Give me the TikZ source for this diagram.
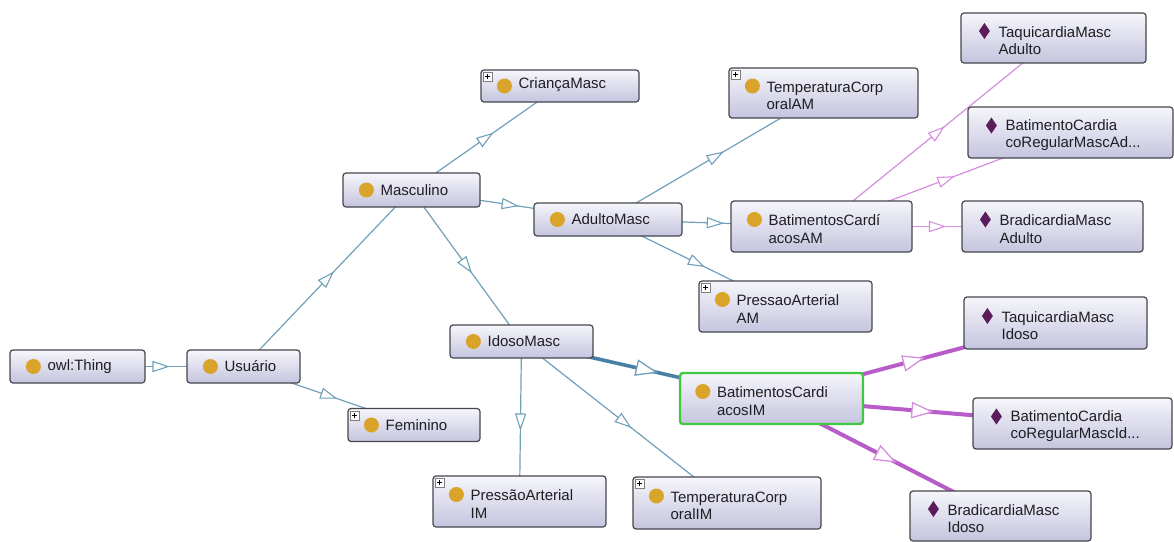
\documentclass[tikz,border=0pt]{standalone}
\usepackage{fontspec}
\setmainfont{Liberation Sans}
\usetikzlibrary{backgrounds,decorations.markings,calc}

\definecolor{boxline}{RGB}{70,70,78}
\definecolor{boxtop}{RGB}{246,246,251}
\definecolor{boxbot}{RGB}{196,196,222}
\definecolor{dotfill}{RGB}{218,164,42}
\definecolor{indivfill}{RGB}{92,28,92}
\definecolor{subline}{RGB}{112,160,186}
\definecolor{subthick}{RGB}{72,128,165}
\definecolor{typeline}{RGB}{214,142,222}
\definecolor{typethick}{RGB}{184,92,202}
\definecolor{selgreen}{RGB}{64,200,64}
\definecolor{ink}{RGB}{30,30,35}

\tikzset{
  cls/.style={rectangle, rounded corners=3pt, draw=boxline, line width=1.2pt,
    top color=boxtop, bottom color=boxbot, inner sep=0pt},
  sel/.style={draw=selgreen, line width=2.4pt},
  lbl/.style={anchor=west, align=left, inner sep=0pt, text=ink,
    font=\fontsize{15}{17.3}\selectfont},
  % hollow mid-arrow, centred on the middle of the centre-to-centre line
  thinmid/.style={postaction={decorate, decoration={markings,
    mark=at position 0.5 with {\draw[#1, line width=1.1pt, fill=white]
      (7.5pt,0pt) -- (-7.5pt,5pt) -- (-7.5pt,-5pt) -- cycle;}}}},
  thickmid/.style={postaction={decorate, decoration={markings,
    mark=at position 0.5 with {\draw[#1, line width=1.3pt, fill=white]
      (10pt,0pt) -- (-10pt,7.5pt) -- (-10pt,-7.5pt) -- cycle;}}}},
  subedge/.style={draw=subline, line width=1.2pt, thinmid=subline},
  subbold/.style={draw=subthick, line width=3.6pt, thickmid=subline},
  typeedge/.style={draw=typeline, line width=1.2pt, thinmid=typeline},
  typebold/.style={draw=typethick, line width=4pt, thickmid=typeline},
  dotmark/.pic={\fill[dotfill] (0pt,0pt) circle (7.5pt);},
  indivmark/.pic={\fill[indivfill] (0pt,-8pt) -- (5.5pt,0pt) -- (0pt,8pt) -- (-5.5pt,0pt) -- cycle;},
  expander/.pic={\draw[gray, fill=white, line width=0.6pt] (0pt,0pt) rectangle (9pt,-9pt);
    \draw[black, line width=0.9pt] (4.5pt,-2pt) -- (4.5pt,-7pt) (2pt,-4.5pt) -- (7pt,-4.5pt);}
}

\begin{document}
\begin{tikzpicture}[x=1pt, y=-1pt]
\useasboundingbox (0,0) rectangle (1174,541);

% ---------- boxes ----------
\node[cls, minimum width=135pt, minimum height=33pt] (thing)   at (77.5,366.5) {};
\node[cls, minimum width=113pt, minimum height=33pt] (usu)     at (243.5,366.5) {};
\node[cls, minimum width=137pt, minimum height=34pt] (masc)    at (411.5,190) {};
\node[cls, minimum width=158pt, minimum height=32pt] (crianca) at (560,86) {};
\node[cls, minimum width=132pt, minimum height=33pt] (fem)     at (414,425) {};
\node[cls, minimum width=148pt, minimum height=33pt] (adulto)  at (608,219.5) {};
\node[cls, minimum width=189pt, minimum height=50pt] (tempAM)  at (823.5,93) {};
\node[cls, minimum width=181pt, minimum height=51pt] (batAM)   at (821.5,226.5) {};
\node[cls, minimum width=173pt, minimum height=51pt] (pressAM) at (785.5,306.5) {};
\node[cls, minimum width=185pt, minimum height=50pt] (taqAd)   at (1053.5,38) {};
\node[cls, minimum width=205pt, minimum height=51pt] (regAd)   at (1070.5,132.5) {};
\node[cls, minimum width=181pt, minimum height=51pt] (bradAd)  at (1052.5,226.5) {};
\node[cls, minimum width=143pt, minimum height=33pt] (idoso)   at (521.5,341.5) {};
\node[cls, sel, minimum width=183pt, minimum height=51pt] (batIM) at (771.5,398.5) {};
\node[cls, minimum width=183pt, minimum height=52pt] (taqId)   at (1055.5,323) {};
\node[cls, minimum width=199pt, minimum height=51pt] (regId)   at (1072.5,423.5) {};
\node[cls, minimum width=181pt, minimum height=50pt] (bradId)  at (1000.5,516) {};
\node[cls, minimum width=173pt, minimum height=51pt] (pressIM) at (519.5,501.5) {};
\node[cls, minimum width=188pt, minimum height=52pt] (tempIM)  at (727,503) {};

% ---------- labels ----------
\node[lbl] (thing-t)   at ([xshift=38pt]thing.west)   {owl:Thing};
\node[lbl] (usu-t)     at ([xshift=38pt]usu.west)     {Usuário};
\node[lbl] (masc-t)    at ([xshift=38pt]masc.west)    {Masculino};
\node[lbl] (crianca-t) at ([xshift=38pt,yshift=1pt]crianca.west) {CriançaMasc};
\node[lbl] (fem-t)     at ([xshift=38pt]fem.west)     {Feminino};
\node[lbl] (adulto-t)  at ([xshift=38pt]adulto.west)  {AdultoMasc};
\node[lbl] (idoso-t)   at ([xshift=38pt]idoso.west)   {IdosoMasc};
\node[lbl] (tempAM-t)  at ([xshift=38pt,yshift=-2.5pt]tempAM.west)  {TemperaturaCorp\\oralAM};
\node[lbl] (batAM-t)   at ([xshift=38pt,yshift=-2.5pt]batAM.west)   {BatimentosCardí\\acosAM};
\node[lbl] (pressAM-t) at ([xshift=38pt,yshift=-2.5pt]pressAM.west) {PressaoArterial\\AM};
\node[lbl] (taqAd-t)   at ([xshift=38pt,yshift=-2.5pt]taqAd.west)   {TaquicardiaMasc\\Adulto};
\node[lbl] (regAd-t)   at ([xshift=38pt,yshift=-2.5pt]regAd.west)   {BatimentoCardia\\coRegularMascAd...};
\node[lbl] (bradAd-t)  at ([xshift=38pt,yshift=-2.5pt]bradAd.west)  {BradicardiaMasc\\Adulto};
\node[lbl] (batIM-t)   at ([xshift=38pt,yshift=-2.5pt]batIM.west)   {BatimentosCardi\\acosIM};
\node[lbl] (taqId-t)   at ([xshift=38pt,yshift=-2.5pt]taqId.west)   {TaquicardiaMasc\\Idoso};
\node[lbl] (regId-t)   at ([xshift=38pt,yshift=-2.5pt]regId.west)   {BatimentoCardia\\coRegularMascId...};
\node[lbl] (bradId-t)  at ([xshift=38pt,yshift=-2.5pt]bradId.west)  {BradicardiaMasc\\Idoso};
\node[lbl] (pressIM-t) at ([xshift=38pt,yshift=-2.5pt]pressIM.west) {PressãoArterial\\IM};
\node[lbl] (tempIM-t)  at ([xshift=38pt,yshift=-2.5pt]tempIM.west)  {TemperaturaCorp\\oralIM};

% ---------- class / individual icons ----------
\foreach \n in {thing,usu,masc,crianca,fem,adulto,idoso}
  \pic at ([xshift=24pt]\n.west) {dotmark};
\foreach \n in {tempAM,batAM,pressAM,batIM,pressIM,tempIM}
  \pic at ([xshift=24pt,yshift=7pt]\n.west) {dotmark};
\foreach \n in {taqAd,regAd,bradAd,taqId,regId,bradId}
  \pic at ([xshift=24pt,yshift=7pt]\n.west) {indivmark};
\foreach \n in {crianca,fem,tempAM,pressAM,pressIM,tempIM}
  \pic at ([xshift=3pt,yshift=-3pt]\n.north west) {expander};

% ---------- connectors ----------
\begin{pgfonlayer}{background}
  \fill[white] (0,0) rectangle (1174,541);
  \draw[subedge] (thing.center) -- (usu.center);
  \draw[subedge] (usu.center) -- (masc.center);
  \draw[subedge] (usu.center) -- (fem.center);
  \draw[subedge] (masc.center) -- (crianca.center);
  \draw[subedge] (masc.center) -- (adulto.center);
  \draw[subedge] (masc.center) -- (idoso.center);
  \draw[subedge] (adulto.center) -- (tempAM.center);
  \draw[subedge] (adulto.center) -- (batAM.center);
  \draw[subedge] (adulto.center) -- (pressAM.center);
  \draw[subedge] (idoso.center) -- (pressIM.center);
  \draw[subedge] (idoso.center) -- (tempIM.center);
  \draw[subbold] (idoso.center) -- (batIM.center);
  \draw[typeedge] (batAM.center) -- (taqAd.center);
  \draw[typeedge] (batAM.center) -- (regAd.center);
  \draw[typeedge] (batAM.center) -- (bradAd.center);
  \draw[typebold] (batIM.center) -- (taqId.center);
  \draw[typebold] (batIM.center) -- (regId.center);
  \draw[typebold] (batIM.center) -- (bradId.center);
\end{pgfonlayer}
\end{tikzpicture}
\end{document}
